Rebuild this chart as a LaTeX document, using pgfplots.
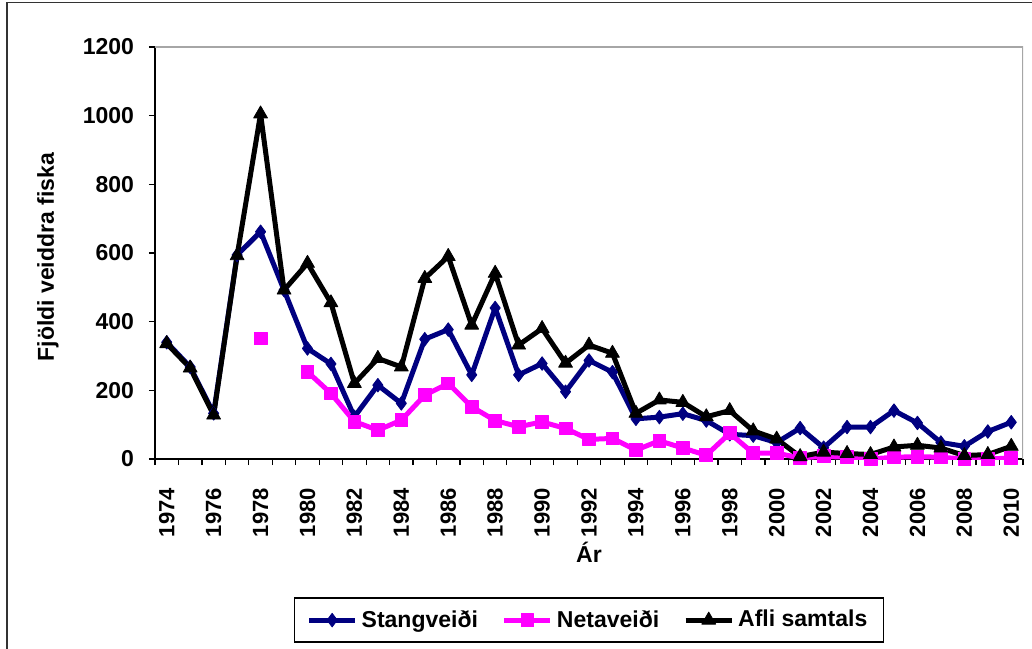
\documentclass[border=0pt]{standalone}
\usepackage{fontspec}
\setmainfont{Liberation Sans}
\usepackage{pgfplots}
\pgfplotsset{compat=1.18}
\usepackage{pgfplotstable}
\definecolor{navyb}{RGB}{0,0,128}
\definecolor{mag}{RGB}{255,0,255}
\pgfplotstableread{
i blue pink black
0 340 nan 336
1 268 nan 265
2 133 nan 128
3 594 nan 592
4 662 351 1005
5 492 nan 492
6 322 254 570
7 277 191 455
8 123 109 220
9 215 84 293
10 162 113 268
11 349 186 526
12 377 220 590
13 245 152 390
14 440 112 541
15 245 94 332
16 278 108 380
17 196 89 279
18 287 57 332
19 253 60 308
20 117 26 133
21 122 53 172
22 132 32 165
23 112 11 123
24 72 75 141
25 68 17 82
26 48 17 58
27 90 3 7
28 33 8 20
29 93 5 16
30 93 0 13
31 141 5 35
32 105 7 40
33 48 5 32
34 37 0 10
35 80 0 13
36 107 3 37
}\data
\begin{document}
\begin{tikzpicture}
\useasboundingbox (-77.5pt,-94.5pt) rectangle (438.5pt,229.5pt);
\draw[line width=0.8pt, black!80] (-74pt,-95pt) -- (-74pt,228.2pt) -- (439pt,228.2pt);
\begin{axis}[
  scale only axis, width=434pt, height=206pt,
  xmin=-0.5, xmax=36.5, ymin=0, ymax=1200,
  axis x line*=bottom, axis y line*=left,
  every outer x axis line/.append style={-},
  every outer y axis line/.append style={-},
  axis line style={-, line width=1pt, black},
  tick pos=left,
  tick align=outside,
  xtick={0,2,...,36},
  xticklabels={1974,1976,1978,1980,1982,1984,1986,1988,1990,1992,1994,1996,1998,2000,2002,2004,2006,2008,2010},
  minor xtick={-0.5,0.5,...,36.5},
  major x tick style={draw=none},
  minor x tick style={black, line width=0.6pt},
  minor tick length=3pt,
  ytick={0,200,...,1200},
  major y tick style={black, line width=0.6pt},
  major tick length=3pt,
  /pgf/number format/assume math mode=true,
  /pgf/number format/1000 sep={},
  tick label style={font=\bfseries\fontsize{11.5}{14}\selectfont},
  xticklabel style={rotate=90, anchor=east, xshift=-8pt, font=\bfseries\fontsize{11}{13}\selectfont},
  yticklabel style={xshift=-4pt},
  label style={font=\bfseries\fontsize{11.5}{13}\selectfont},
  xlabel={Ár},
  ylabel={Fjöldi veiddra fiska},
  xlabel style={at={(axis description cs:0.5,-0.226)}, anchor=center},
  ylabel style={at={(axis description cs:-0.1233,0.49)}, anchor=center},
  unbounded coords=jump,
  legend columns=3,
  legend image code/.code={\draw[mark repeat=2,mark phase=2] plot coordinates {(0pt,0pt) (11.5pt,0pt) (23pt,0pt)};},
  legend style={at={(axis description cs:0.5,-0.391)}, anchor=center, draw=black, line width=0.8pt,
    font=\bfseries\fontsize{11.5}{13}\selectfont,
    /tikz/every even column/.append style={column sep=10pt},
    inner xsep=6pt, inner ysep=4pt},
]
\draw[gray!70, line width=0.8pt] (rel axis cs:0,1) -- (rel axis cs:1,1) -- (rel axis cs:1,0);
\addplot[navyb, line width=2.5pt, line join=round, mark=diamond*, mark size=3.4pt, mark options={solid, fill=navyb, line width=0.4pt}] table[x=i, y=blue] {\data};
\addlegendentry{Stangveiði}
\addplot[mag, line width=2.5pt, line join=round, mark=square*, mark size=3.2pt, mark options={solid, fill=mag, line width=0.4pt}] table[x=i, y=pink] {\data};
\addlegendentry{Netaveiði}
\addplot[black, line width=2.5pt, line join=round, mark=triangle*, mark size=4pt, mark options={solid, fill=black, line width=0.4pt}] table[x=i, y=black] {\data};
\addlegendentry{Afli samtals}
\end{axis}
\end{tikzpicture}
\end{document}
